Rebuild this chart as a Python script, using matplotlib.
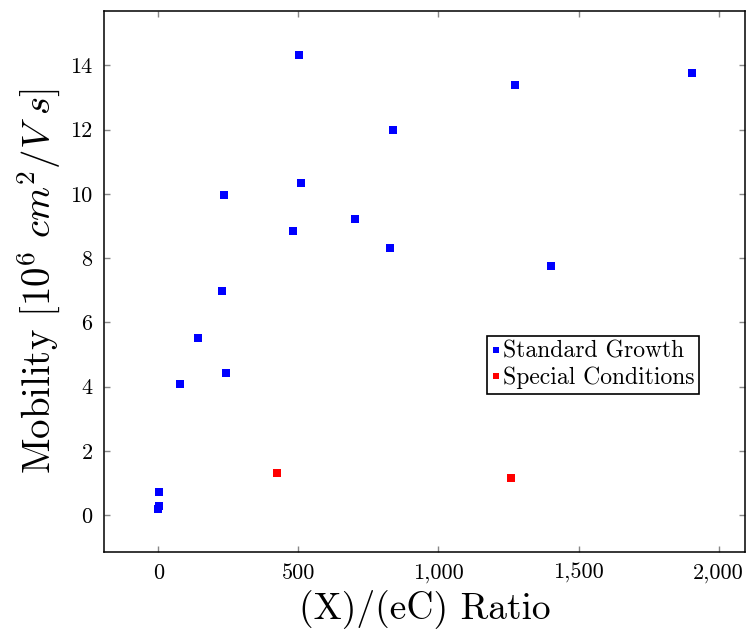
import matplotlib

matplotlib.use("Agg")
import matplotlib.pyplot as plt
from matplotlib.ticker import FuncFormatter


# Values
STANDARD_X = [0, 2, 3, 77, 141, 227, 233, 241, 480, 502, 511, 703, 826, 836, 1273, 1401, 1906]
STANDARD_Y = [0.20, 0.28, 0.72, 4.08, 5.51, 6.97, 9.97, 4.42, 8.83, 14.32, 10.33, 9.23, 8.32, 12.00, 13.40, 7.76, 13.76]
SPECIAL_X = [423, 1258]
SPECIAL_Y = [1.30, 1.15]

X_TICKS = [0, 500, 1000, 1500, 2000]
Y_TICKS = [0, 2, 4, 6, 8, 10, 12, 14]


def build_plot():
    plt.rcParams["font.family"] = ["cmr10", "DejaVu Serif"]
    plt.rcParams["mathtext.fontset"] = "cm"
    plt.rcParams["axes.unicode_minus"] = False
    plt.rcParams["axes.formatter.use_mathtext"] = True

    fig = plt.figure(figsize=(7.46, 6.36), dpi=100)
    ax = fig.add_axes([0.139, 0.132, 0.860, 0.851])

    ax.plot(STANDARD_X, STANDARD_Y, "s", color="#0000ff", markersize=5.8,
            markeredgewidth=0, label="Standard Growth")
    ax.plot(SPECIAL_X, SPECIAL_Y, "s", color="#ff0000", markersize=5.8,
            markeredgewidth=0, label="Special Conditions")

    ax.set_xlim(-195, 2095)
    ax.set_ylim(-1.15, 15.7)
    ax.set_xticks(X_TICKS)
    ax.set_yticks(Y_TICKS)
    ax.xaxis.set_major_formatter(FuncFormatter(lambda v, p: f"{v:,.0f}"))
    ax.yaxis.set_major_formatter(FuncFormatter(lambda v, p: f"{v:.0f}"))
    ax.tick_params(direction="in", length=4, width=1, color="#888888",
                   labelsize=16, top=True, right=True, pad=8)

    for spine in ax.spines.values():
        spine.set_linewidth(1.1)
        spine.set_color("black")

    ax.set_xlabel("(X)/(eC) Ratio", fontsize=27, labelpad=4)
    ax.set_ylabel(r"Mobility $[10^6\ cm^2/V\ s]$", fontsize=28, labelpad=6)

    leg = ax.legend(loc="upper left", bbox_to_anchor=(0.597, 0.399), borderaxespad=0,
                    fontsize=17, handlelength=0.4, handletextpad=0.1, borderpad=0.2,
                    labelspacing=0.15, fancybox=False, framealpha=1, markerscale=0.8)
    leg.get_frame().set_edgecolor("black")
    leg.get_frame().set_linewidth(1.2)

    fig.savefig("out.png", dpi=100)
    plt.close(fig)


if __name__ == "__main__":
    build_plot()
